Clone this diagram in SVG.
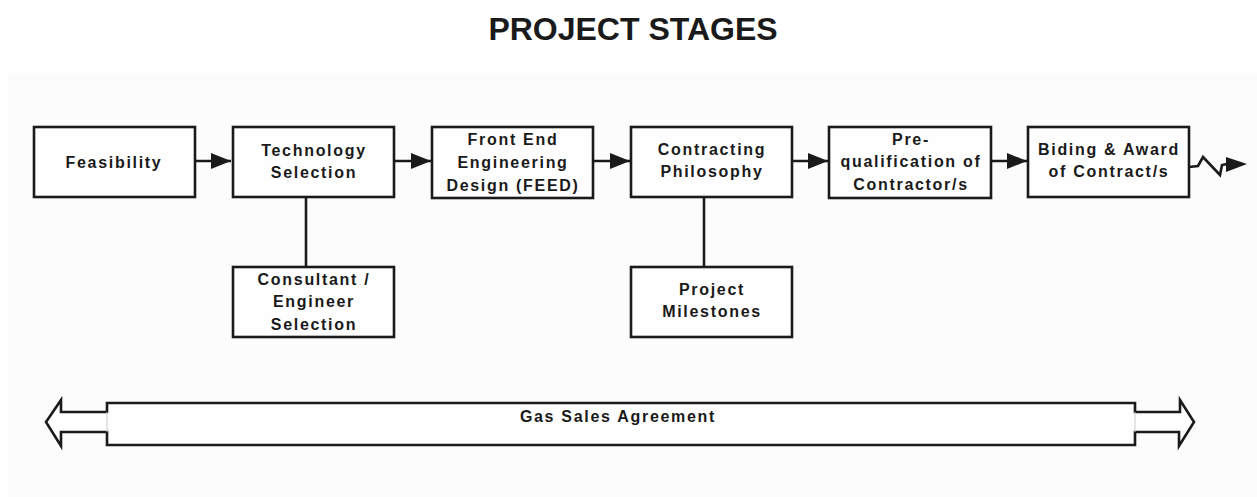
<svg xmlns="http://www.w3.org/2000/svg" width="1257" height="497" viewBox="0 0 1257 497">
<style>
.box{fill:#fefefe;stroke:#1a1a1a;stroke-width:2.6}
.t{font-family:"Liberation Sans",Arial,sans-serif;font-weight:bold;font-size:16px;letter-spacing:1.7px;fill:#1a1a1a;text-anchor:middle}
.ln{stroke:#1a1a1a;stroke-width:2.6;fill:none}
</style>
<defs>
<marker id="ah" markerUnits="userSpaceOnUse" markerWidth="22" markerHeight="16" refX="20" refY="8" orient="auto">
<polygon points="0,0 20,8 0,16" fill="#1a1a1a"/>
</marker>
</defs>
<rect x="0" y="0" width="1257" height="497" fill="#ffffff"/>
<rect x="8" y="73" width="1249" height="424" fill="#fcfcfc"/>
<text x="633" y="40" style="font-family:'Liberation Sans',Arial,sans-serif;font-weight:bold;font-size:32px;fill:#1a1a1a;text-anchor:middle">PROJECT STAGES</text>

<g id="connectors">
<line class="ln" x1="195" y1="161" x2="231" y2="161" marker-end="url(#ah)"/>
<line class="ln" x1="394" y1="161" x2="431" y2="161" marker-end="url(#ah)"/>
<line class="ln" x1="593" y1="161" x2="630" y2="161" marker-end="url(#ah)"/>
<line class="ln" x1="792" y1="161" x2="828" y2="161" marker-end="url(#ah)"/>
<line class="ln" x1="991" y1="161" x2="1027" y2="161" marker-end="url(#ah)"/>
<line class="ln" x1="306" y1="197" x2="306" y2="267"/>
<line class="ln" x1="704" y1="197" x2="704" y2="267"/>
<polyline class="ln" points="1189,167 1198,166 1203,157 1220,175 1222,165 1227,164"/>
<polygon points="1226,157 1247,164 1226,172" fill="#1a1a1a"/>
</g>

<g id="feasibility">
<rect class="box" x="34" y="127" width="161" height="70"/>
<text class="t" x="114" y="168">Feasibility</text>
</g>
<g id="technology">
<rect class="box" x="233" y="127" width="161" height="70"/>
<text class="t" x="314" y="156">Technology</text>
<text class="t" x="314" y="178">Selection</text>
</g>
<g id="consultant">
<rect class="box" x="233" y="267" width="161" height="70"/>
<text class="t" x="314" y="285">Consultant /</text>
<text class="t" x="314" y="307">Engineer</text>
<text class="t" x="314" y="330">Selection</text>
</g>
<g id="feed">
<rect class="box" x="432" y="127" width="161" height="71"/>
<text class="t" x="513" y="145">Front End</text>
<text class="t" x="513" y="168">Engineering</text>
<text class="t" x="513" y="191">Design (FEED)</text>
</g>
<g id="contracting">
<rect class="box" x="631" y="127" width="161" height="70"/>
<text class="t" x="712" y="155">Contracting</text>
<text class="t" x="712" y="177">Philosophy</text>
</g>
<g id="milestones">
<rect class="box" x="631" y="267" width="161" height="70"/>
<text class="t" x="712" y="295">Project</text>
<text class="t" x="712" y="317">Milestones</text>
</g>
<g id="prequalification">
<rect class="box" x="829" y="127" width="162" height="71"/>
<text class="t" x="911" y="145">Pre-</text>
<text class="t" x="911" y="167">qualification of</text>
<text class="t" x="911" y="190">Contractor/s</text>
</g>
<g id="biding">
<rect class="box" x="1028" y="127" width="161" height="70"/>
<text class="t" x="1109" y="155">Biding &amp; Award</text>
<text class="t" x="1109" y="177">of Contract/s</text>
</g>
<g id="gas-sales">
<path d="M107,403 H1135 V412 H1180 V400 L1194,422 L1179,446 V432 H1135 V445 H107 V432 H61 V446 L46,422 L61,400 V412 H107 Z" fill="#fefefe" stroke="#1a1a1a" stroke-width="2.6" stroke-linejoin="miter"/>
<line x1="107" y1="412" x2="107" y2="432" stroke="#cccccc" stroke-width="1"/>
<line x1="1135" y1="412" x2="1135" y2="432" stroke="#cccccc" stroke-width="1"/>
<text class="t" x="618" y="422">Gas Sales Agreement</text>
</g>
</svg>
